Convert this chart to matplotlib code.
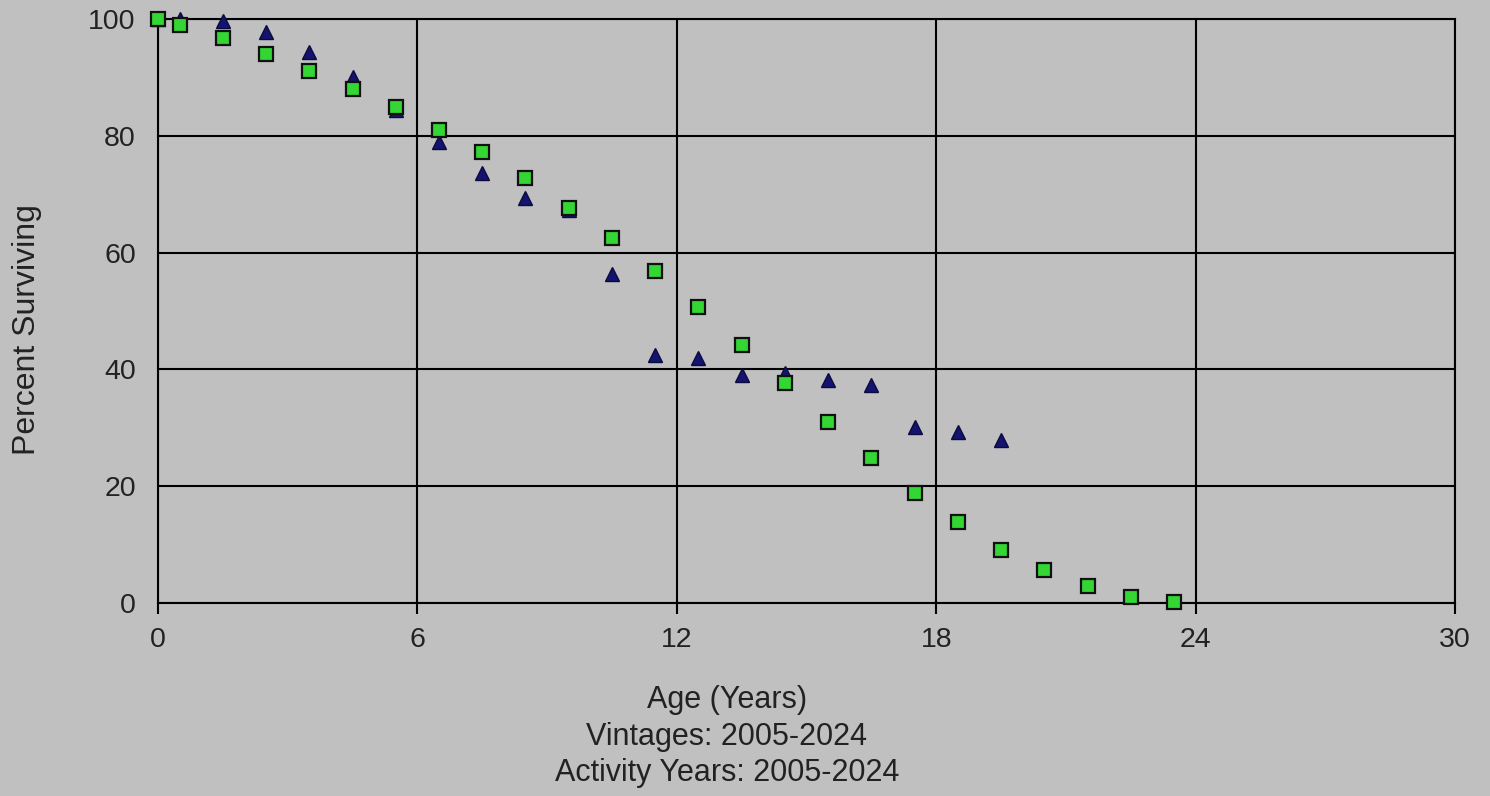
import matplotlib
matplotlib.use("Agg")
import matplotlib.pyplot as plt

# Data
ages_green = [0, 0.5, 1.5, 2.5, 3.5, 4.5, 5.5, 6.5, 7.5, 8.5, 9.5, 10.5, 11.5,
              12.5, 13.5, 14.5, 15.5, 16.5, 17.5, 18.5, 19.5, 20.5, 21.5, 22.5, 23.5]
pct_green = [100, 98.9, 96.7, 94.0, 91.1, 88.0, 84.9, 81.0, 77.3, 72.8, 67.6, 62.5, 56.8,
             50.7, 44.1, 37.6, 31.0, 24.8, 18.9, 13.8, 9.0, 5.6, 2.9, 1.1, 0.2]

ages_blue = [0, 0.5, 1.5, 2.5, 3.5, 4.5, 5.5, 6.5, 7.5, 8.5, 9.5, 10.5, 11.5,
             12.5, 13.5, 14.5, 15.5, 16.5, 17.5, 18.5, 19.5]
pct_blue = [100, 100, 99.6, 97.8, 94.4, 90.1, 84.4, 79.0, 73.7, 69.3, 67.3, 56.4, 42.4,
            41.9, 39.1, 39.3, 38.2, 37.4, 30.1, 29.2, 27.9]

x_ticks = [0, 6, 12, 18, 24, 30]
y_ticks = [0, 20, 40, 60, 80, 100]

xlabel_lines = ["Age (Years)", "Vintages: 2005-2024", "Activity Years: 2005-2024"]
ylabel = "Percent Surviving"

BG = "#c0c0c0"
TXT = "#222222"
FS = 20.5
FS_LAB = 22
plt.rcParams['font.family'] = ['Liberation Sans', 'DejaVu Sans']

W, H = 1490, 796
fig = plt.figure(figsize=(W / 100, H / 100), dpi=100, facecolor=BG)
ax = fig.add_axes([158 / W, 1 - 603 / H, (1455 - 158) / W, (603 - 19) / H])
ax.set_facecolor(BG)

ax.set_xlim(0, 30)
ax.set_ylim(0, 100)
ax.set_xticks(x_ticks)
ax.set_yticks(y_ticks)
ax.grid(True, color="black", linewidth=1.5)
ax.set_axisbelow(True)
for s in ax.spines.values():
    s.set_color("black")
    s.set_linewidth(1.5)

ax.tick_params(axis="x", direction="out", length=8, width=1.5, pad=9,
               labelsize=FS, labelcolor=TXT, color="black")
ax.tick_params(axis="y", length=0, pad=16, labelsize=FS, labelcolor=TXT)

ax.plot(ages_blue, pct_blue, linestyle="none", marker="^", markersize=10.5,
        markerfacecolor="#14146e", markeredgecolor="#0a0a40", markeredgewidth=1.0,
        clip_on=False, zorder=3)
ax.plot(ages_green, pct_green, linestyle="none", marker="s", markersize=10.5,
        markerfacecolor="#33d633", markeredgecolor="#111111", markeredgewidth=1.6,
        clip_on=False, zorder=4)

ys = [700, 737, 773]
for line, yp in zip(xlabel_lines, ys):
    fig.text(727 / W, 1 - yp / H, line, ha="center", va="center",
             fontsize=FS_LAB, color=TXT)

fig.text(27 / W, 1 - 330 / H, ylabel, rotation=90, ha="center", va="center",
         fontsize=23, color=TXT)

fig.savefig("out.png", dpi=100, facecolor=BG)
